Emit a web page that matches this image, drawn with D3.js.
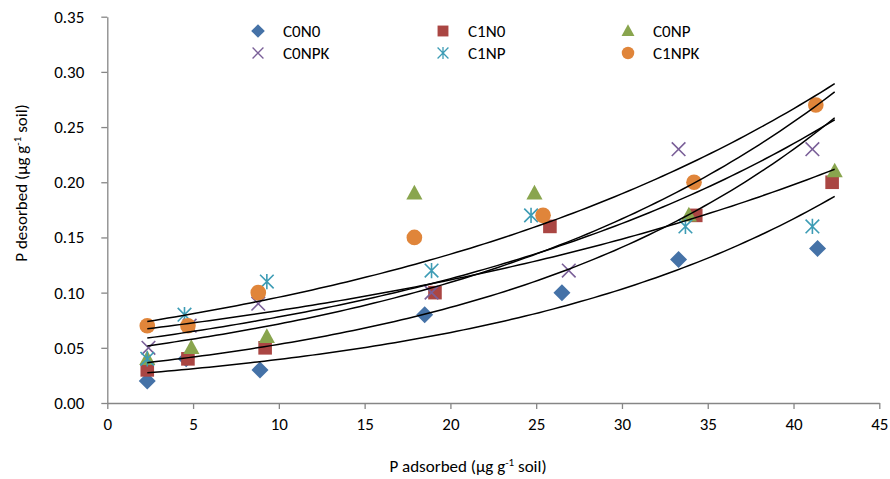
<!DOCTYPE html>
<html>
<head>
<meta charset="utf-8">
<script src="https://cdn.jsdelivr.net/npm/d3@7"></script>
<style>
  body { margin: 0; background: #fff; }
  text { font-family: Carlito, Lato, "Open Sans", sans-serif; fill: #000; }
</style>
</head>
<body>
<div id="wrapper"></div>
<script>
// data
const seriesNames = ["C0N0", "C1N0", "C0NP", "C0NPK", "C1NP", "C1NPK"];
const seriesColors = ["#4572A7", "#AA4643", "#89A54E", "#7A5F98", "#3D9CB5", "#E0853A"];
const seriesShapes = ["diamond", "square", "triangle", "cross", "star", "circle"];

const c0n0X  = [2.33, 4.6, 8.9, 18.5, 26.5, 33.3, 41.4];
const c0n0Y  = [0.02, 0.04, 0.03, 0.08, 0.10, 0.13, 0.14];
const c1n0X  = [2.33, 4.7, 9.2, 19.1, 25.8, 34.3, 42.25];
const c1n0Y  = [0.03, 0.04, 0.05, 0.10, 0.16, 0.17, 0.20];
const c0npX  = [2.33, 4.9, 9.3, 17.9, 24.9, 33.9, 42.4];
const c0npY  = [0.04, 0.05, 0.06, 0.19, 0.19, 0.17, 0.21];
const c0npkX = [2.4, 4.8, 8.8, 18.9, 26.9, 33.3, 41.1];
const c0npkY = [0.05, 0.07, 0.09, 0.10, 0.12, 0.23, 0.23];
const c1npX  = [2.33, 4.5, 9.3, 18.9, 24.7, 33.7, 41.1];
const c1npY  = [0.04, 0.08, 0.11, 0.12, 0.17, 0.16, 0.16];
const c1npkX = [2.33, 4.7, 8.8, 17.9, 25.4, 34.2, 41.3];
const c1npkY = [0.07, 0.07, 0.10, 0.15, 0.17, 0.20, 0.27];

const xTicks = [0, 5, 10, 15, 20, 25, 30, 35, 40, 45];
const yTicks = [0, 0.05, 0.10, 0.15, 0.20, 0.25, 0.30, 0.35];

const allX = [c0n0X, c1n0X, c0npX, c0npkX, c1npX, c1npkX];
const allY = [c0n0Y, c1n0Y, c0npY, c0npkY, c1npY, c1npkY];

const series = seriesNames.map((name, i) => ({
  name: name,
  color: seriesColors[i],
  shape: seriesShapes[i],
  points: allX[i].map((x, j) => ({ x: x, y: allY[i][j] })),
}));

// exponential trendline, least squares on ln(y) like Excel
function expFit(pts) {
  const mx = d3.mean(pts, (p) => p.x);
  const my = d3.mean(pts, (p) => Math.log(p.y));
  let sxy = 0, sxx = 0;
  pts.forEach((p) => {
    sxy += (p.x - mx) * (Math.log(p.y) - my);
    sxx += (p.x - mx) * (p.x - mx);
  });
  const b = sxy / sxx;
  const a = Math.exp(my - b * mx);
  return { a: a, b: b };
}

const dimensions = {
  width: 890,
  height: 479,
  margin: { top: 16.7, right: 10.7, bottom: 76, left: 107.3 },
};
dimensions.boundedWidth = dimensions.width - dimensions.margin.left - dimensions.margin.right;
dimensions.boundedHeight = dimensions.height - dimensions.margin.top - dimensions.margin.bottom;

const svg = d3.select("#wrapper").append("svg")
  .attr("width", dimensions.width)
  .attr("height", dimensions.height);

const bounds = svg.append("g")
  .attr("transform", `translate(${dimensions.margin.left},${dimensions.margin.top})`);

const xScale = d3.scaleLinear().domain([0, 45]).range([0, dimensions.boundedWidth]);
const yScale = d3.scaleLinear().domain([0, 0.35]).range([dimensions.boundedHeight, 0]);

// axes
const xAxis = bounds.append("g")
  .attr("transform", `translate(0,${dimensions.boundedHeight})`)
  .call(d3.axisBottom(xScale).tickValues(xTicks).tickFormat(d3.format("d")).tickSize(6).tickSizeOuter(0).tickPadding(9));
const yAxis = bounds.append("g")
  .call(d3.axisLeft(yScale).tickValues(yTicks).tickFormat(d3.format(".2f")).tickSize(6).tickSizeOuter(0).tickPadding(17));

[xAxis, yAxis].forEach((ax) => {
  ax.select(".domain").attr("stroke", "#868686").attr("stroke-width", 1.3);
  ax.selectAll(".tick line").attr("stroke", "#868686").attr("stroke-width", 1.3);
  ax.selectAll(".tick text").style("font-size", "17px").attr("fill", "#000")
    .style("font-family", "Carlito, Lato, sans-serif");
});

// marker shapes
function markerPath(shape, s) {
  const p = d3.path();
  if (shape == "diamond") {
    p.moveTo(0, -s); p.lineTo(s, 0); p.lineTo(0, s); p.lineTo(-s, 0); p.closePath();
  } else if (shape == "square") {
    p.rect(-s * 0.8, -s * 0.8, s * 1.6, s * 1.6);
  } else if (shape == "triangle") {
    p.moveTo(0, -s); p.lineTo(s * 0.95, s * 0.72); p.lineTo(-s * 0.95, s * 0.72); p.closePath();
  } else if (shape == "circle") {
    p.arc(0, 0, s * 0.92, 0, 2 * Math.PI);
  } else if (shape == "cross") {
    p.moveTo(-s * 0.8, -s * 0.8); p.lineTo(s * 0.8, s * 0.8);
    p.moveTo(s * 0.8, -s * 0.8); p.lineTo(-s * 0.8, s * 0.8);
  } else if (shape == "star") {
    p.moveTo(-s * 0.8, -s * 0.8); p.lineTo(s * 0.8, s * 0.8);
    p.moveTo(s * 0.8, -s * 0.8); p.lineTo(-s * 0.8, s * 0.8);
    p.moveTo(0, -s * 0.9); p.lineTo(0, s * 0.9);
  }
  return p.toString();
}

function drawMarker(sel, d) {
  const open = d.shape == "cross" || d.shape == "star";
  sel.attr("d", markerPath(d.shape, 8.5))
    .attr("fill", open ? "none" : d.color)
    .attr("stroke", open ? d.color : "none")
    .attr("stroke-width", open ? 1.6 : 0);
}

series.forEach((s) => {
  bounds.append("g").selectAll("path")
    .data(s.points)
    .enter().append("path")
      .attr("transform", (d) => `translate(${xScale(d.x)},${yScale(d.y)})`)
      .each(function () { drawMarker(d3.select(this), s); });
});

// trendlines over full x range of the data
const xExtent = d3.extent(allX.flat());
const samples = d3.range(0, 101).map((i) => xExtent[0] + (xExtent[1] - xExtent[0]) * i / 100);
const line = d3.line().x((d) => xScale(d.x)).y((d) => yScale(d.y));

series.forEach((s) => {
  const f = expFit(s.points);
  bounds.append("path")
    .datum(samples.map((x) => ({ x: x, y: f.a * Math.exp(f.b * x) })))
    .attr("d", line)
    .attr("fill", "none")
    .attr("stroke", "#000")
    .attr("stroke-width", 1.5);
});

// legend
const legendCols = [258, 443, 628];
const legendRows = [31, 53];
const legend = svg.append("g");
series.forEach((s, i) => {
  const lx = legendCols[i % 3];
  const ly = legendRows[Math.floor(i / 3)];
  const g = legend.append("g").attr("transform", `translate(${lx},${ly})`);
  g.append("path").call((sel) => drawMarker(sel, s)).attr("transform", "scale(0.8)");
  g.append("text").attr("x", 25).attr("y", 0).attr("dy", "0.35em")
    .style("font-size", "17px").text(s.name);
});

// axis titles
const xTitle = svg.append("text")
  .attr("x", 468).attr("y", 472)
  .attr("text-anchor", "middle")
  .style("font-size", "17px");
xTitle.append("tspan").text("P adsorbed (µg g");
xTitle.append("tspan").attr("dy", -6).style("font-size", "11px").text("-1");
xTitle.append("tspan").attr("dy", 6).text(" soil)");

const yTitle = svg.append("text")
  .attr("transform", "translate(27,183) rotate(-90)")
  .attr("text-anchor", "middle")
  .style("font-size", "17px");
yTitle.append("tspan").text("P desorbed (µg g");
yTitle.append("tspan").attr("dy", -6).style("font-size", "11px").text("-1");
yTitle.append("tspan").attr("dy", 6).text(" soil)");
</script>
</body>
</html>
